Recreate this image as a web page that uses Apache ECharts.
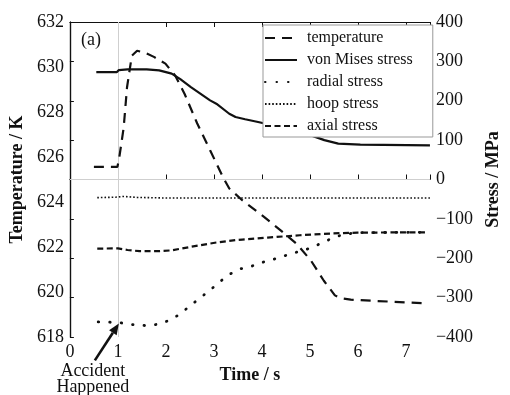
<!DOCTYPE html>
<html>
<head>
<meta charset="utf-8">
<script src="https://cdn.jsdelivr.net/npm/echarts@6/dist/echarts.min.js"></script>
<style>
  html, body { margin: 0; padding: 0; background: #fff; }
  #chart { width: 510px; height: 395px; }
</style>
</head>
<body>
<div id="chart"></div>
<script>
// Time axis ticks and left/right axis ranges
const timeTicks = [0, 1, 2, 3, 4, 5, 6, 7];
const tempTicks = [618, 620, 622, 624, 626, 628, 630, 632];
const stressTicks = [-400, -300, -200, -100, 0, 100, 200, 300, 400];

// Temperature (K)
const tempTime = [0.5, 0.99, 1.03, 1.12, 1.19, 1.29, 1.4, 1.55, 1.75, 1.99, 2.19, 2.39, 2.65, 2.92, 3.19, 3.32, 3.59, 4.05, 4.39, 4.72, 5.02, 5.29, 5.52, 5.65, 5.85, 6.39, 7.4];
const tempK = [625.56, 625.56, 626.0, 627.3, 629.1, 630.5, 630.72, 630.65, 630.45, 630.15, 629.63, 628.8, 627.5, 626.3, 625.1, 624.6, 624.08, 623.33, 622.74, 622.15, 621.4, 620.5, 619.85, 619.72, 619.66, 619.6, 619.5];

// von Mises stress (MPa)
const misesTime = [0.55, 0.98, 1.02, 1.2, 1.6, 1.86, 2.12, 2.3, 2.52, 2.92, 3.05, 3.32, 3.45, 3.65, 3.92, 4.39, 4.92, 5.3, 5.59, 6.05, 7.5];
const misesMPa = [272.8, 272.8, 278, 279.5, 279.5, 277, 268.8, 255, 234.8, 201, 192.6, 167, 158.6, 153, 146, 133, 116.5, 100, 91, 88.6, 86.8];

// Radial stress (MPa)
const radialTime = [0.59, 1.0, 1.39, 1.6, 1.85, 2.09, 2.29, 2.49, 2.72, 2.92, 3.12, 3.32, 3.55, 3.79, 4.05, 4.29, 4.52, 4.79, 5.02, 5.25, 5.49, 5.72, 6.0, 7.45];
const radialMPa = [-361.7, -363, -370, -371, -367.5, -357, -342, -322, -300, -281, -260, -241, -227, -220, -209, -201, -192, -182, -174, -161, -147.5, -139, -135, -134];

// Hoop stress (MPa)
const hoopTime = [0.57, 0.95, 1.1, 1.4, 2.0, 7.5];
const hoopMPa = [-46, -45, -43, -45.5, -47, -47];

// Axial stress (MPa)
const axialTime = [0.57, 1.0, 1.2, 1.45, 1.85, 2.12, 2.52, 3.05, 3.45, 3.59, 4.12, 4.79, 5.45, 5.99, 7.45];
const axialMPa = [-175.5, -175, -179, -182, -182, -180, -171, -160, -154, -152.6, -147.5, -141.6, -137, -135, -134];

const accidentTime = 1;
const zeroStressTemp = 625;

const zip = (xs, ys) => xs.map((x, i) => [x, ys[i]]);
const serif = "'Liberation Serif', 'Times New Roman', serif";
const ink = '#111';

const chart = echarts.init(document.getElementById('chart'), null, { renderer: 'canvas' });

function lineSeries(name, data, yAxisIndex, lineStyle, extra) {
  return Object.assign({
    name: name,
    type: 'line',
    yAxisIndex: yAxisIndex,
    data: data,
    showSymbol: false,
    symbol: 'none',
    animation: false,
    z: 3,
    lineStyle: Object.assign({ color: ink }, lineStyle),
    itemStyle: { color: ink }
  }, extra || {});
}

chart.setOption({
  animation: false,
  textStyle: { fontFamily: serif, color: ink },
  grid: { left: 67, right: 68, top: 22, bottom: 58, containLabel: false },
  legend: {
    orient: 'vertical',
    left: 263,
    top: 25,
    itemWidth: 32,
    itemHeight: 14,
    itemGap: 6,
    padding: [5, 20, 3, 1],
    borderColor: '#999',
    borderWidth: 1,
    backgroundColor: '#fff',
    z: 10,
    itemStyle: { opacity: 0 },
    textStyle: { fontFamily: serif, fontSize: 16, color: ink, padding: [0, 0, 0, 5] },
    data: ['temperature', 'von Mises stress', 'radial stress', 'hoop stress', 'axial stress']
  },
  xAxis: [
    {
      type: 'value', position: 'bottom', min: timeTicks[0], max: 7.5, interval: 1,
      name: 'Time / s', nameLocation: 'middle', nameGap: 25,
      nameTextStyle: { fontFamily: serif, fontSize: 18, fontWeight: 'bold', color: ink },
      axisLine: { show: true, lineStyle: { color: ink, width: 1.2 } },
      axisTick: { show: true, inside: true, length: 5, lineStyle: { color: ink } },
      axisLabel: {
        fontFamily: serif, fontSize: 18, color: ink, margin: 6,
        formatter: v => timeTicks.includes(v) ? String(v) : ''
      },
      splitLine: { show: false }
    },
    {
      type: 'value', position: 'top', min: timeTicks[0], max: 7.5, interval: 1,
      axisLine: { show: true, onZero: false, lineStyle: { color: ink, width: 1.2 } },
      axisTick: { show: true, inside: true, length: 5, lineStyle: { color: ink } },
      axisLabel: { show: false },
      splitLine: { show: false }
    }
  ],
  yAxis: [
    {
      type: 'value', position: 'left', min: tempTicks[0], max: tempTicks[tempTicks.length - 1], interval: 2,
      name: 'Temperature / K', nameLocation: 'middle', nameGap: 36, nameRotate: 90,
      nameTextStyle: { fontFamily: serif, fontSize: 18, fontWeight: 'bold', color: ink },
      axisLine: { show: true, lineStyle: { color: ink, width: 1.2 } },
      axisTick: { show: false },
      axisLabel: { fontFamily: serif, fontSize: 18, color: ink, margin: 6 },
      splitLine: { show: false }
    },
    {
      type: 'value', position: 'right', min: stressTicks[0], max: stressTicks[stressTicks.length - 1], interval: 100,
      name: 'Stress / MPa', nameLocation: 'middle', nameGap: 54, nameRotate: 90,
      nameTextStyle: { fontFamily: serif, fontSize: 18, fontWeight: 'bold', color: ink },
      axisLine: { show: true, lineStyle: { color: ink, width: 1.2 } },
      axisTick: { show: true, inside: false, length: 4, lineStyle: { color: ink } },
      axisLabel: {
        fontFamily: serif, fontSize: 18, color: ink, margin: 6,
        formatter: v => String(v).replace('-', '\u2212')
      },
      splitLine: { show: false }
    }
  ],
  series: [
    lineSeries('temperature', zip(tempTime, tempK), 0, { width: 2.2, type: [10, 7] }, {
      markLine: {
        silent: true, symbol: 'none', animation: false,
        label: { show: false },
        lineStyle: { color: '#cfcfcf', width: 1, type: 'solid' },
        data: [{ xAxis: accidentTime }, { yAxis: zeroStressTemp }],
        z: 1
      }
    }),
    lineSeries('von Mises stress', zip(misesTime, misesMPa), 1, { width: 2.2, type: 'solid' }),
    lineSeries('radial stress', zip(radialTime, radialMPa), 1, { width: 2.8, type: [0.5, 11], cap: 'round' }),
    lineSeries('hoop stress', zip(hoopTime, hoopMPa), 1, { width: 1.6, type: [1.6, 2] }),
    lineSeries('axial stress', zip(axialTime, axialMPa), 1, { width: 2.2, type: [6, 3.5] })
  ]
});

// Annotations placed from data coordinates
function drawAnnotations() {
  const tip = chart.convertToPixel({ xAxisIndex: 0, yAxisIndex: 0 }, [1.02, 618.6]);
  const tail = chart.convertToPixel({ xAxisIndex: 0, yAxisIndex: 0 }, [0.52, 616.96]);
  const dx = tip[0] - tail[0], dy = tip[1] - tail[1];
  const len = Math.hypot(dx, dy);
  const ux = dx / len, uy = dy / len;
  const headLen = 11, headHalf = 4.5;
  const bx = tip[0] - ux * headLen, by = tip[1] - uy * headLen;
  const px = -uy, py = ux;
  chart.setOption({
    graphic: [
      {
        type: 'line', silent: true, z: 20,
        shape: { x1: tail[0], y1: tail[1], x2: bx, y2: by },
        style: { stroke: ink, lineWidth: 2.6 }
      },
      {
        type: 'polygon', silent: true, z: 20,
        shape: { points: [[tip[0], tip[1]], [bx + px * headHalf, by + py * headHalf], [bx - px * headHalf, by - py * headHalf]] },
        style: { fill: ink }
      },
      {
        type: 'text', silent: true, z: 20,
        x: tail[0] - 2, y: tail[1] + 3,
        style: {
          text: 'Accident\nHappened', fill: ink, font: '18px ' + serif,
          textAlign: 'center', textVerticalAlign: 'top', lineHeight: 16
        }
      },
      {
        type: 'text', silent: true, z: 20,
        left: 81, top: 31,
        style: { text: '(a)', fill: ink, font: '18px ' + serif }
      }
    ]
  });
}
drawAnnotations();
</script>
</body>
</html>
